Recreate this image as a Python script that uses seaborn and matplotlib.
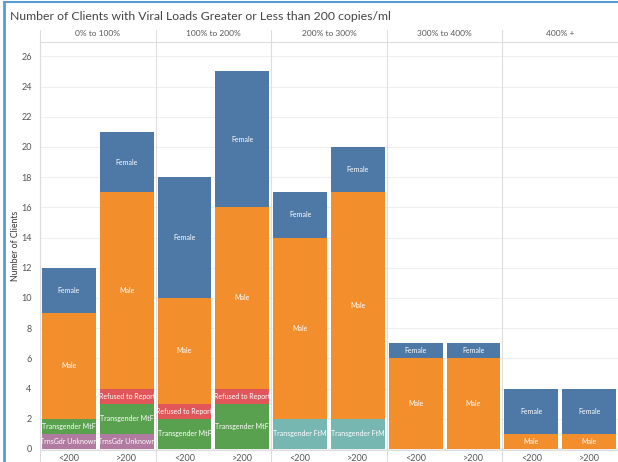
import numpy as np
import pandas as pd
import seaborn as sns
import matplotlib.pyplot as plt
from matplotlib.lines import Line2D

# Data
groups = ["0% to 100%", "100% to 200%", "200% to 300%", "300% to 400%", "400% +"]
loads = ["<200", ">200"]
categories = ["TrnsGdr Unknown", "Transgender MtF", "Transgender FtM", "Refused to Report", "Male", "Female"]
unknown = [1, 1, 0, 0, 0, 0, 0, 0, 0, 0]
mtf = [1, 2, 2, 3, 0, 0, 0, 0, 0, 0]
ftm = [0, 0, 0, 0, 2, 2, 0, 0, 0, 0]
refused = [0, 1, 1, 1, 0, 0, 0, 0, 0, 0]
male = [7, 13, 7, 12, 12, 15, 6, 6, 1, 1]
female = [3, 4, 8, 9, 3, 3, 1, 1, 3, 3]
colors = ["#b07aa1", "#59a14f", "#76b7b2", "#e15759", "#f28e2b", "#4e79a7"]

bar_keys = [f"{g}|{v}" for g in groups for v in loads]
counts = pd.DataFrame(
    dict(zip(categories, [unknown, mtf, ftm, refused, male, female])), index=bar_keys
)
tops = counts.cumsum(axis=1)
bottoms = tops - counts

sns.set_style("white")
plt.rcParams["font.family"] = ["Lato", "DejaVu Sans"]

fig = plt.figure(figsize=(6.18, 4.62), dpi=100)
ax = fig.add_axes([40 / 618, 12 / 462, 578 / 618, 408 / 462])

# grid behind bars
for yv in range(0, 27, 2):
    ax.axhline(yv, color="#efefef", lw=0.8, zorder=0)

# layered bars (tallest first so shorter cumulative bars sit on top)
patches = {}
for cat, col in zip(categories[::-1], colors[::-1]):
    df = pd.DataFrame({"bar": bar_keys, "top": tops[cat].values})
    sns.barplot(data=df, x="bar", y="top", order=bar_keys, color=col,
                saturation=1, width=0.934, ax=ax, zorder=2, linewidth=0)
    patches[cat] = list(ax.containers[-1].patches)

# segment labels clipped to the bar
for cat in categories:
    for i, key in enumerate(bar_keys):
        n = counts.loc[key, cat]
        if n <= 0:
            continue
        t = ax.text(i, bottoms.loc[key, cat] + n / 2, cat, color="white",
                    fontsize=5.0, ha="center", va="center", zorder=5)
        t.set_clip_path(patches[cat][i])

ax.set_xlim(-0.5, len(bar_keys) - 0.5)
ax.set_ylim(-0.07, 26.95)
ax.set_yticks(range(0, 27, 2))
ax.tick_params(axis="y", labelsize=6.5, colors="#555555", length=0, pad=6)
ax.set_xticks(range(len(bar_keys)))
ax.set_xticklabels([k.split("|")[1] for k in bar_keys])
ax.tick_params(axis="x", labelsize=6.5, colors="#555555", length=0, pad=3)
ax.set_xlabel("")
ax.set_ylabel("Number of Clients", fontsize=6.3, color="#333333", labelpad=1)
for s in ["right", "bottom"]:
    ax.spines[s].set_visible(False)
ax.spines["top"].set_color("#dddddd")
ax.spines["top"].set_linewidth(0.8)
ax.spines["left"].set_color("#dddddd")
ax.spines["left"].set_linewidth(0.8)
ax.spines["left"].set_bounds(-0.07, 26.95)

# facet headers and dividers
trans = ax.get_xaxis_transform()
for j, g in enumerate(groups):
    ax.text(2 * j + 0.5, 1.022, g, transform=trans, ha="center", va="center",
            fontsize=6.0, color="#555555", clip_on=False)
    if j > 0:
        ax.add_line(Line2D([2 * j - 0.5] * 2, [-0.03, 1.03], transform=trans,
                           color="#dddddd", lw=0.8, clip_on=False, zorder=1))
ax.add_line(Line2D([-0.5, 9.5], [0, 0], transform=trans, color="#dddddd",
                   lw=0.8, clip_on=False, zorder=3))
ax.add_line(Line2D([-0.5, -0.5], [-0.03, 1.03], transform=trans,
                   color="#dddddd", lw=0.8, clip_on=False))

fig.text(10 / 618, 1 - 17 / 462, "Number of Clients with Viral Loads Greater or Less than 200 copies/ml",
         fontsize=8.8, color="#444444", ha="left", va="center")

# window frame
fig.add_artist(Line2D([4 / 618, 4 / 618], [0, 1 - 2 / 462], color="#5b9bd5", lw=2))
fig.add_artist(Line2D([4 / 618, 1], [1 - 2 / 462] * 2, color="#5b9bd5", lw=1.5))

fig.savefig("out.png", dpi=100)
